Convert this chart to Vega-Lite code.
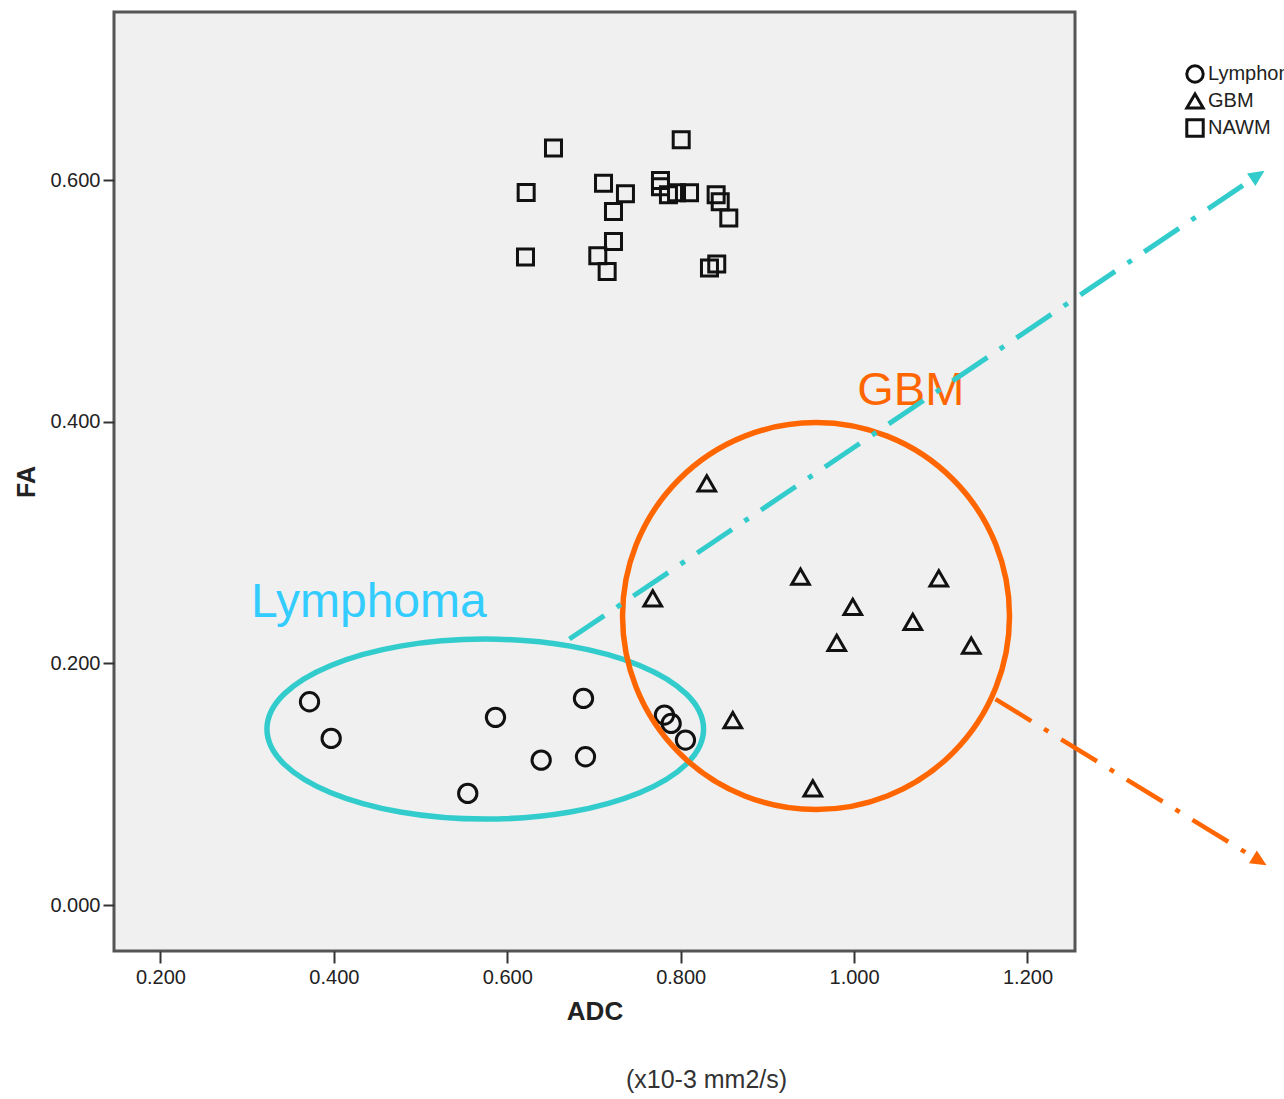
{
  "$schema": "https://vega.github.io/schema/vega-lite/v6.json",
  "width": 961,
  "height": 939,
  "autosize": {"type": "none"},
  "padding": {"left": 114, "top": 12, "right": 209, "bottom": 148},
  "background": "#ffffff",
  "config": {
    "view": {"fill": "#f0f0f0", "stroke": "#555555", "strokeWidth": 3},
    "font": "Liberation Sans"
  },
  "datasets": {
    "pts": [
      {"Group": "Lymphoma", "ADC": 0.3719, "FA": 0.1683},
      {"Group": "Lymphoma", "ADC": 0.3969, "FA": 0.1380},
      {"Group": "Lymphoma", "ADC": 0.5864, "FA": 0.1554},
      {"Group": "Lymphoma", "ADC": 0.6879, "FA": 0.1711},
      {"Group": "Lymphoma", "ADC": 0.6391, "FA": 0.1200},
      {"Group": "Lymphoma", "ADC": 0.6902, "FA": 0.1228},
      {"Group": "Lymphoma", "ADC": 0.5544, "FA": 0.0925},
      {"Group": "Lymphoma", "ADC": 0.7813, "FA": 0.1573},
      {"Group": "Lymphoma", "ADC": 0.7890, "FA": 0.1504},
      {"Group": "Lymphoma", "ADC": 0.8055, "FA": 0.1366},
      {"Group": "GBM", "ADC": 0.8301, "FA": 0.3491},
      {"Group": "GBM", "ADC": 0.7678, "FA": 0.2539},
      {"Group": "GBM", "ADC": 0.9382, "FA": 0.2718},
      {"Group": "GBM", "ADC": 1.0977, "FA": 0.2704},
      {"Group": "GBM", "ADC": 0.9985, "FA": 0.2469},
      {"Group": "GBM", "ADC": 1.0677, "FA": 0.2345},
      {"Group": "GBM", "ADC": 0.9800, "FA": 0.2171},
      {"Group": "GBM", "ADC": 1.1351, "FA": 0.2147},
      {"Group": "GBM", "ADC": 0.8601, "FA": 0.1531},
      {"Group": "GBM", "ADC": 0.9524, "FA": 0.0966},
      {"Group": "NAWM", "ADC": 0.6533, "FA": 0.6264},
      {"Group": "NAWM", "ADC": 0.8006, "FA": 0.6333},
      {"Group": "NAWM", "ADC": 0.6218, "FA": 0.5897},
      {"Group": "NAWM", "ADC": 0.7110, "FA": 0.5974},
      {"Group": "NAWM", "ADC": 0.7363, "FA": 0.5886},
      {"Group": "NAWM", "ADC": 0.7225, "FA": 0.5739},
      {"Group": "NAWM", "ADC": 0.7767, "FA": 0.5996},
      {"Group": "NAWM", "ADC": 0.7767, "FA": 0.5944},
      {"Group": "NAWM", "ADC": 0.7859, "FA": 0.5877},
      {"Group": "NAWM", "ADC": 0.7952, "FA": 0.5894},
      {"Group": "NAWM", "ADC": 0.8102, "FA": 0.5894},
      {"Group": "NAWM", "ADC": 0.8409, "FA": 0.5877},
      {"Group": "NAWM", "ADC": 0.8456, "FA": 0.5820},
      {"Group": "NAWM", "ADC": 0.8555, "FA": 0.5685},
      {"Group": "NAWM", "ADC": 0.6210, "FA": 0.5362},
      {"Group": "NAWM", "ADC": 0.7225, "FA": 0.5491},
      {"Group": "NAWM", "ADC": 0.7044, "FA": 0.5373},
      {"Group": "NAWM", "ADC": 0.7152, "FA": 0.5243},
      {"Group": "NAWM", "ADC": 0.8332, "FA": 0.5271},
      {"Group": "NAWM", "ADC": 0.8416, "FA": 0.5306}
    ]
  },
  "encoding": {
    "x": {
      "field": "ADC",
      "type": "quantitative",
      "scale": {"domain": [0.1464, 1.2548], "nice": false, "zero": false},
      "axis": {
        "title": "ADC",
        "titleFontSize": 26,
        "titleFontWeight": "bold",
        "titleColor": "#222222",
        "titlePadding": 11,
        "values": [0.2, 0.4, 0.6, 0.8, 1.0, 1.2],
        "format": ".3f",
        "labelFontSize": 20,
        "labelColor": "#222222",
        "labelPadding": 4,
        "tickSize": 12,
        "tickWidth": 2,
        "tickColor": "#333333",
        "domain": false,
        "grid": false
      }
    },
    "y": {
      "field": "FA",
      "type": "quantitative",
      "scale": {"domain": [-0.0379, 0.739], "nice": false, "zero": false},
      "axis": {
        "title": "FA",
        "titleFontSize": 25,
        "titleFontWeight": "bold",
        "titleColor": "#222222",
        "titlePadding": 10,
        "values": [0, 0.2, 0.4, 0.6],
        "format": ".3f",
        "labelFontSize": 20,
        "labelColor": "#222222",
        "labelPadding": 3,
        "tickSize": 11,
        "tickWidth": 2,
        "tickColor": "#333333",
        "domain": false,
        "grid": false
      }
    }
  },
  "layer": [
    {
      "data": {"name": "pts"},
      "transform": [{"filter": "datum.Group === 'Lymphoma'"}],
      "mark": {"type": "point", "filled": false, "stroke": "#111111", "strokeWidth": 3, "size": 335, "opacity": 1},
      "encoding": {
        "shape": {
          "field": "Group",
          "type": "nominal",
          "scale": {"domain": ["Lymphoma", "GBM", "NAWM"], "range": ["circle", "triangle-up", "square"]},
          "legend": {
            "title": null,
            "orient": "none",
            "legendX": 1071,
            "legendY": 52,
            "labelFontSize": 20,
            "labelColor": "#222222",
            "labelOffset": 3,
            "symbolSize": 270,
            "symbolStrokeWidth": 3,
            "symbolStrokeColor": "#111111",
            "symbolFillColor": "transparent",
            "rowPadding": -2
          }
        }
      }
    },
    {
      "data": {"name": "pts"},
      "transform": [{"filter": "datum.Group === 'GBM'"}],
      "mark": {"type": "point", "filled": false, "stroke": "#111111", "strokeWidth": 3, "size": 310, "opacity": 1},
      "encoding": {
        "shape": {
          "field": "Group",
          "type": "nominal",
          "scale": {"domain": ["Lymphoma", "GBM", "NAWM"], "range": ["circle", "triangle-up", "square"]}
        }
      }
    },
    {
      "data": {"name": "pts"},
      "transform": [{"filter": "datum.Group === 'NAWM'"}],
      "mark": {"type": "point", "filled": false, "stroke": "#111111", "strokeWidth": 3, "size": 256, "opacity": 1},
      "encoding": {
        "shape": {
          "field": "Group",
          "type": "nominal",
          "scale": {"domain": ["Lymphoma", "GBM", "NAWM"], "range": ["circle", "triangle-up", "square"]}
        }
      }
    },
    {
      "data": {"values": [{"ADC": 0.5746, "FA": 0.1457}]},
      "mark": {
        "type": "point",
        "shape": "M -1 0 C -1 -0.2277 -0.5523 -0.4123 0 -0.4123 C 0.5523 -0.4123 1 -0.2277 1 0 C 1 0.2277 0.5523 0.4123 0 0.4123 C -0.5523 0.4123 -1 0.2277 -1 0 Z",
        "size": 190620,
        "filled": false,
        "stroke": "#33CCCC",
        "strokeWidth": 5.5,
        "opacity": 1
      }
    },
    {
      "data": {"values": [{"ADC": 0.9561, "FA": 0.2392}]},
      "mark": {
        "type": "point",
        "shape": "circle",
        "size": 149769,
        "filled": false,
        "stroke": "#FF6600",
        "strokeWidth": 5.5,
        "opacity": 1
      }
    },
    {
      "data": {"values": [{"ADC": 0.3045, "FA": 0.2382, "label": "Lymphoma"}]},
      "mark": {"type": "text", "align": "left", "baseline": "alphabetic", "fontSize": 48, "color": "#33CCFF"},
      "encoding": {"text": {"field": "label"}}
    },
    {
      "data": {"values": [{"ADC": 1.0037, "FA": 0.4139, "label": "GBM"}]},
      "mark": {"type": "text", "align": "left", "baseline": "alphabetic", "fontSize": 47, "color": "#FF6600"},
      "encoding": {"text": {"field": "label"}}
    },
    {
      "data": {"values": [{"ADC": 0.8298, "FA": -0.1515, "label": "(x10-3 mm2/s)"}]},
      "mark": {"type": "text", "align": "center", "baseline": "alphabetic", "fontSize": 25, "color": "#333333"},
      "encoding": {"text": {"field": "label"}}
    },
    {
      "data": {"values": [{"ADC": 0.6717, "FA": 0.2202}, {"ADC": 1.4638, "FA": 0.6030}]},
      "mark": {"type": "line", "stroke": "#33CCCC", "strokeWidth": 5, "strokeDash": [42, 15, 5, 15]}
    },
    {
      "data": {"values": [{"ADC": 1.4638, "FA": 0.6030}]},
      "mark": {"type": "point", "shape": "M 0 -1 L 0.75 0.6 L -0.75 0.6 Z", "filled": true, "fill": "#33CCCC", "size": 400, "angle": 56, "opacity": 1}
    },
    {
      "data": {"values": [{"ADC": 1.1631, "FA": 0.1705}, {"ADC": 1.4659, "FA": 0.0374}]},
      "mark": {"type": "line", "stroke": "#FF6600", "strokeWidth": 4.5, "strokeDash": [42, 15, 5, 15]}
    },
    {
      "data": {"values": [{"ADC": 1.4659, "FA": 0.0374}]},
      "mark": {"type": "point", "shape": "M 0 -1 L 0.75 0.6 L -0.75 0.6 Z", "filled": true, "fill": "#FF6600", "size": 400, "angle": 121.5, "opacity": 1}
    }
  ]
}
